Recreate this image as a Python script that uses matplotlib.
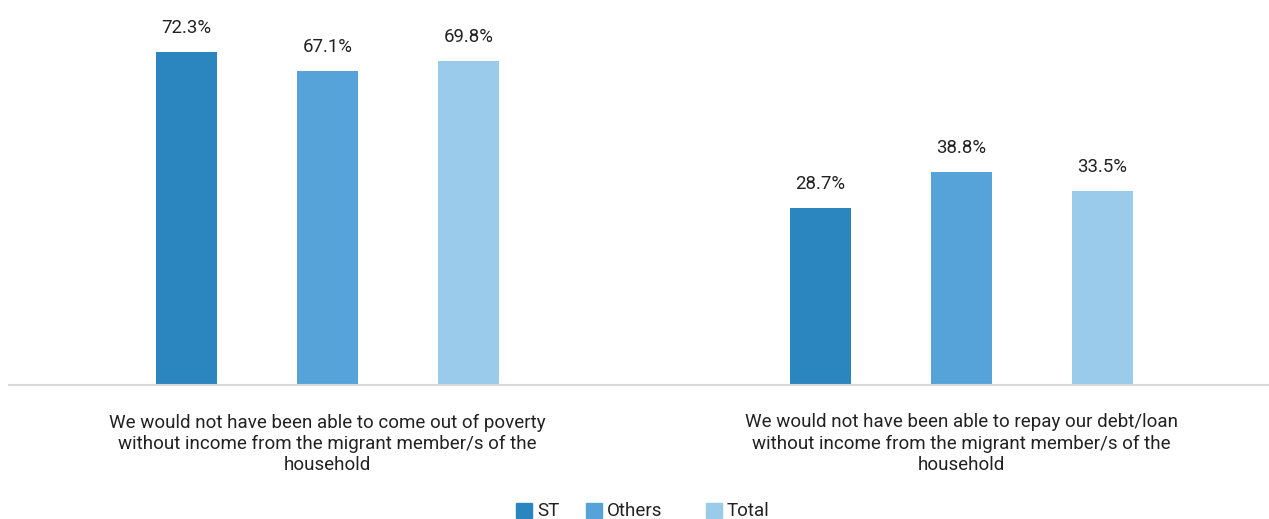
import matplotlib
matplotlib.use("Agg")
import matplotlib.pyplot as plt
from matplotlib.patches import Rectangle
import numpy as np

plt.rcParams['font.family'] = ['Roboto', 'DejaVu Sans']

categories = [
    "We would not have been able to come out of poverty\nwithout income from the migrant member/s of the\nhousehold",
    "We would not have been able to repay our debt/loan\nwithout income from the migrant member/s of the\nhousehold",
]
series_names = ["ST", "Others", "Total"]
st_values = [72.3, 28.7]
others_values = [67.1, 38.8]
total_values = [69.8, 33.5]
series_values = [st_values, others_values, total_values]
colors = ["#2b86bf", "#56a3d9", "#9bcbea"]

W, H = 1269, 519
fig = plt.figure(figsize=(W / 100, H / 100), dpi=100)
ax = fig.add_axes([9 / W, (H - 385) / H, 1 - 9 / W, 385 / H])

ymin, ymax = -20.7, 86.9
ax.set_ylim(ymin, ymax)
ax.set_xlim(-0.502, 1.485)

x = np.arange(len(categories))
offset = 141 / 634
width = 61 / 634
for i, (name, vals, c) in enumerate(zip(series_names, series_values, colors)):
    xs = x + (i - 1) * offset
    vals = np.array(vals)
    ax.bar(xs, vals - ymin, bottom=ymin, width=width, color=c, label=name, zorder=2)
    for xi, v in zip(xs, vals):
        ax.annotate(f"{v:.1f}%", (xi, v), xytext=(0, 17.5), textcoords="offset points",
                    ha="center", va="center", fontsize=13.4, color="#222222")

for s in ["top", "right", "left"]:
    ax.spines[s].set_visible(False)
ax.spines["bottom"].set_color("#d9d9d9")
ax.spines["bottom"].set_linewidth(1.5)
ax.set_yticks([])
ax.set_xticks(x)
ax.set_xticklabels(categories, fontsize=13.5, color="#222222", linespacing=1.22)
ax.tick_params(axis="x", length=0, pad=20.5)

# legend (manual placement to match spacing)
legend_x = [516, 586, 706]
for name, c, lx in zip(series_names, colors, legend_x):
    fig.add_artist(Rectangle((lx / W, (H - 518) / H), 16 / W, 15 / H,
                             transform=fig.transFigure, color=c))
    fig.text((lx + 21) / W, (H - 511.5) / H, name, ha="left", va="center",
             fontsize=13.5, color="#222222")

fig.savefig("out.png", dpi=100)
